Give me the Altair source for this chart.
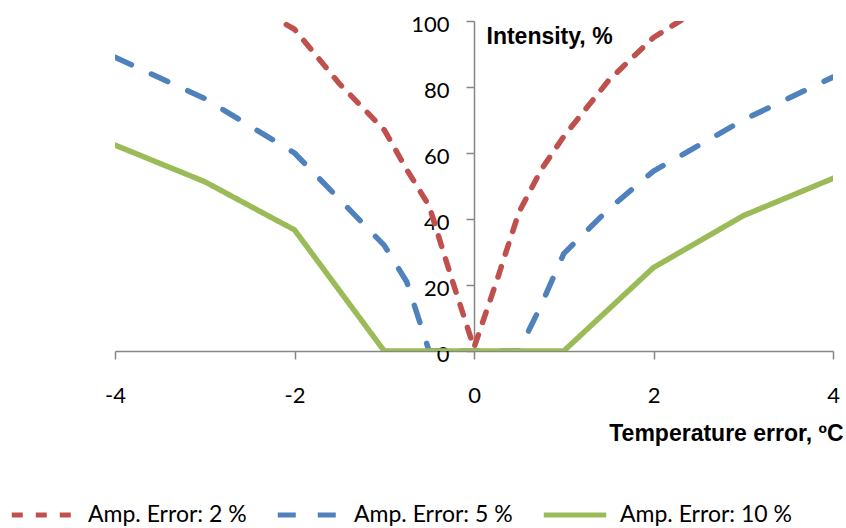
import altair as alt
import pandas as pd

series_names = ["Amp. Error: 2 %", "Amp. Error: 5 %", "Amp. Error: 10 %"]
series_colors = ["#C0504D", "#4F81BD", "#9BBB59"]
series_dashes = [[11, 13], [18, 22], [1, 0]]

red_x = [-4, -3, -2, -1.5, -1, -0.75, -0.5, -0.25, 0, 0.25, 0.5, 0.75, 1, 1.5, 2, 3, 4]
red_y = [125, 113, 97.5, 81, 67, 55, 44, 22, 1, 21, 42, 55, 65, 82, 95, 112, 125]

blue_x = [-4, -3, -2, -1.5, -1, -0.75, -0.5, 0, 0.5, 0.75, 1, 1.5, 2, 3, 4]
blue_y = [89, 76.5, 60, 46, 32, 21, 0, 0, 0, 14, 29.5, 43, 54.5, 70, 83]

green_x = [-4, -3, -2, -1, 0, 1, 2, 3, 4]
green_y = [62.4, 51.3, 36.7, 0, 0, 0, 25.3, 41, 52.3]

x_ticks = [-4, -2, 0, 2, 4]
y_ticks = [0, 20, 40, 60, 80, 100]

rows = []
for name, xs, ys in zip(series_names, [red_x, blue_x, green_x], [red_y, blue_y, green_y]):
    for xv, yv in zip(xs, ys):
        rows.append({"series": name, "x": xv, "y": yv})
df = pd.DataFrame(rows)

AXIS_GRAY = "#868686"

legend = alt.Legend(
    title=None,
    orient="none",
    direction="horizontal",
    legendX=-106,
    legendY=460,
    symbolType="stroke",
    symbolSize=3900,
    symbolStrokeWidth=5,
    labelFont="Lato",
    labelFontSize=23,
    labelColor="black",
    labelOffset=11,
    columnPadding=20,
    labelLimit=400,
)

chart = (
    alt.Chart(df)
    .mark_line(clip=True, strokeWidth=5.5, strokeCap="round", strokeJoin="round")
    .encode(
        x=alt.X(
            "x:Q",
            scale=alt.Scale(domain=[-4, 4], nice=False, zero=False),
            axis=alt.Axis(
                values=x_ticks,
                title="Temperature error, ºC",
                titleX=728,
                titleY=82,
                titleAlign="right",
                titleAngle=0,
                titleBaseline="middle",
                titleFont="Liberation Sans",
                titleFontSize=23,
                titleFontWeight="bold",
                titleColor="black",
                labelFont="Lato",
                labelFontSize=22,
                labelColor="black",
                labelBaseline="middle",
                labelPadding=36,
                labelFlush=False,
                labelOverlap=False,
                labelExpr="'' + datum.value",
                tickSize=8,
                tickWidth=1.5,
                tickColor=AXIS_GRAY,
                domainColor=AXIS_GRAY,
                domainWidth=1.5,
                grid=False,
            ),
        ),
        y=alt.Y(
            "y:Q",
            scale=alt.Scale(domain=[0, 100], nice=False),
            axis=alt.Axis(
                values=y_ticks,
                offset=-359,
                title="Intensity, %",
                titleX=12,
                titleY=15,
                titleAlign="left",
                titleAngle=0,
                titleBaseline="middle",
                titleFont="Liberation Sans",
                titleFontSize=23,
                titleFontWeight="bold",
                titleColor="black",
                labelFont="Lato",
                labelFontSize=22,
                labelColor="black",
                labelPadding=17,
                labelOffset=3,
                labelOverlap=False,
                tickSize=8,
                tickWidth=1.5,
                tickColor=AXIS_GRAY,
                domainColor=AXIS_GRAY,
                domainWidth=1.5,
                grid=False,
            ),
        ),
        color=alt.Color(
            "series:N",
            sort=series_names,
            scale=alt.Scale(domain=series_names, range=series_colors),
            legend=legend,
        ),
        strokeDash=alt.StrokeDash(
            "series:N",
            sort=series_names,
            scale=alt.Scale(domain=series_names, range=series_dashes),
            legend=legend,
        ),
        order="x:Q",
    )
    .properties(
        width=718,
        height=330,
        autosize=alt.AutoSizeParams(type="none"),
        padding={"left": 115, "top": 21, "right": 13, "bottom": 177},
        background="white",
    )
    .configure_view(stroke=None)
)

chart.save("out.html", embed_options={"renderer": "svg", "actions": False})
